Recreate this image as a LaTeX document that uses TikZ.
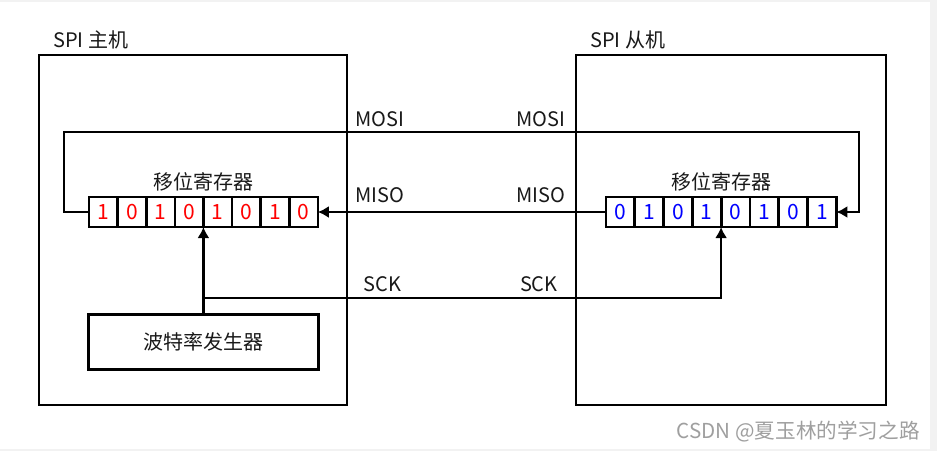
\documentclass[tikz,border=0pt]{standalone}
\usepackage{fontspec}
\setmainfont{Noto Sans CJK SC}
\usetikzlibrary{arrows.meta,positioning}

\tikzset{
  box/.style={draw, line width=1.3pt, outer sep=0pt},
  cell/.style={draw, line width=1.3pt, outer sep=0pt, inner sep=0pt, minimum width=14.3pt, minimum height=15pt, font=\fontsize{10.5}{12}\selectfont},
  sig/.style={line width=1.3pt, -{Latex[length=5.5pt,width=6pt]}},
  lbl/.style={inner sep=0pt, text=black!90},
}

\begin{document}
\begin{tikzpicture}[x=0.5pt,y=-0.5pt]
% page frame
\fill[gray!10] (0,0) rectangle (937,451);
\fill[white] (0,2) rectangle (930,449);
\useasboundingbox (0,0) rectangle (937,451);

% master and slave
\node[box, minimum width=154pt, minimum height=175pt] (master) at (193,230) {};
\node[lbl, anchor=base west] (mastername) at (53,47) {SPI 主机};
\node[box, minimum width=155pt, minimum height=175pt] (slave) at (731,230) {};
\node[lbl, anchor=base west] (slavename) at (590,47) {SPI 从机};

% shift registers
\foreach \b [count=\i] in {1,0,1,0,1,0,1,0}
  \node[cell, text=red] (lcell\i) at ({89+28.6*(\i-0.5)},212) {\b};
\foreach \b [count=\i] in {0,1,0,1,0,1,0,1}
  \node[cell, text=blue] (rcell\i) at ({606+28.8*(\i-0.5)},212) {\b};
\node[lbl, above=2.5pt of lcell4.north east] (lreg) {移位寄存器};
\node[lbl, above=2.5pt of rcell4.north east] (rreg) {移位寄存器};

% baud rate generator
\node[box, lbl, minimum width=115pt, minimum height=27.5pt] (baud) at (203.4,342) {波特率发生器};

% signals
\coordinate (loopL) at (64,132);
\coordinate (loopR) at (859,132);
\coordinate (sckL) at (baud.north |- loopR);
\draw[sig] (lcell1.west) -| (loopL) -- (loopR) |- (rcell8.east);
\draw[sig] (rcell1.west) -- (lcell8.east);
\draw[sig] (baud.north) -- (baud.north |- lcell4.south);
\draw[sig] ([yshift=-83pt]sckL) -| (rcell4.south east);

\node[lbl, anchor=base west] (mosiM) at (355,126) {MOSI};
\node[lbl, anchor=base east] (mosiS) at (566,126) {MOSI};
\node[lbl, anchor=base west] (misoM) at (355,202) {MISO};
\node[lbl, anchor=base east] (misoS) at (566,202) {MISO};
\node[lbl, anchor=base west] (sckM) at (363,291) {SCK};
\node[lbl, anchor=base east] (sckS) at (558,291) {SCK};

\node[anchor=base east, inner sep=0pt, text=gray!75, font=\fontsize{10.3}{12}\selectfont] (mark) at (920,438) {CSDN @夏玉林的学习之路};
\end{tikzpicture}
\end{document}
